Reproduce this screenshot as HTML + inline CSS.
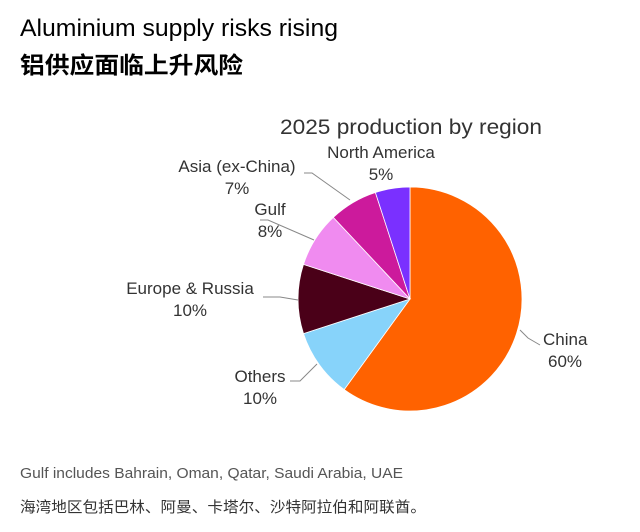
<!DOCTYPE html>
<html><head><meta charset="utf-8"><style>
body{margin:0;width:640px;height:527px;background:#fff;overflow:hidden;font-family:"Liberation Sans","Noto Sans CJK SC",sans-serif;}
svg text{font-family:"Liberation Sans","Noto Sans CJK SC",sans-serif;}
</style></head><body>
<svg width="640" height="527">
<text x="20" y="36" font-size="24" fill="#000" textLength="318" lengthAdjust="spacingAndGlyphs">Aluminium supply risks rising</text>
<text x="20" y="73" font-size="23" font-weight="bold" fill="#000" textLength="223" lengthAdjust="spacingAndGlyphs">铝供应面临上升风险</text>
<text x="280" y="134" font-size="21" fill="#333" textLength="262" lengthAdjust="spacingAndGlyphs">2025 production by region</text>
<g id="pie"></g>
<g id="labels"></g>
<text x="20" y="478" font-size="15" fill="#555" textLength="383" lengthAdjust="spacingAndGlyphs">Gulf includes Bahrain, Oman, Qatar, Saudi Arabia, UAE</text>
<text x="20" y="512" font-size="15" fill="#333" textLength="406" lengthAdjust="spacingAndGlyphs">海湾地区包括巴林、阿曼、卡塔尔、沙特阿拉伯和阿联酋。</text>
</svg>
<script>
const categories=["China","Others","Europe & Russia","Gulf","Asia (ex-China)","North America"];
const values=[60,10,10,8,7,5];
const colors=["#ff6200","#87d3fa","#4a0018","#f08bf0","#cc1a9c","#7a30ff"];
const labelPos=[[543,345],[260,382],[190,294],[270,215],[237,172],[381,158]];
const leaders=[[[540,345],[528,338],[520,330]],[[290,381],[300,381],[317,364]],[[263,297],[280,297],[298,300]],[[260,220],[268,220],[314,240]],[[304,173],[312,173],[350,200]],null];
const NS="http://www.w3.org/2000/svg";
const cx=410,cy=299,r=112;
const pie=document.getElementById('pie'),lab=document.getElementById('labels');
const total=values.reduce((a,b)=>a+b,0);
let a=0;
function pt(ang){return [cx+r*Math.sin(ang),cy-r*Math.cos(ang)];}
values.forEach((v,i)=>{
  const a0=a,a1=a+v/total*2*Math.PI;a=a1;
  const p0=pt(a0),p1=pt(a1),large=(a1-a0)>Math.PI?1:0;
  const p=document.createElementNS(NS,'path');
  p.setAttribute('d',`M${cx},${cy}L${p0[0]},${p0[1]}A${r},${r} 0 ${large} 1 ${p1[0]},${p1[1]}Z`);
  p.setAttribute('fill',colors[i]);p.setAttribute('stroke','#fff');p.setAttribute('stroke-width','0.8');
  
  
  pie.appendChild(p);
  const [lx,ly]=labelPos[i];
  const t=document.createElementNS(NS,'text');
  t.setAttribute('x',lx);t.setAttribute('y',ly);t.setAttribute('font-size','17');t.setAttribute('fill','#333');
  t.setAttribute('text-anchor',i==0?'start':'middle');
  
  
  const s1=document.createElementNS(NS,'tspan');s1.setAttribute('x',lx);s1.textContent=categories[i];
  const s2=document.createElementNS(NS,'tspan');s2.setAttribute('x',i==0?lx+5:lx);s2.setAttribute('dy','22');s2.textContent=v+'%';
  t.appendChild(s1);t.appendChild(s2);lab.appendChild(t);
  if(leaders[i]){const l=document.createElementNS(NS,'polyline');
    l.setAttribute('points',leaders[i].map(q=>q.join(',')).join(' '));
    l.setAttribute('fill','none');l.setAttribute('stroke','#888');l.setAttribute('stroke-width','1');
    
    
    lab.appendChild(l);}
});
</script>
</body></html>
